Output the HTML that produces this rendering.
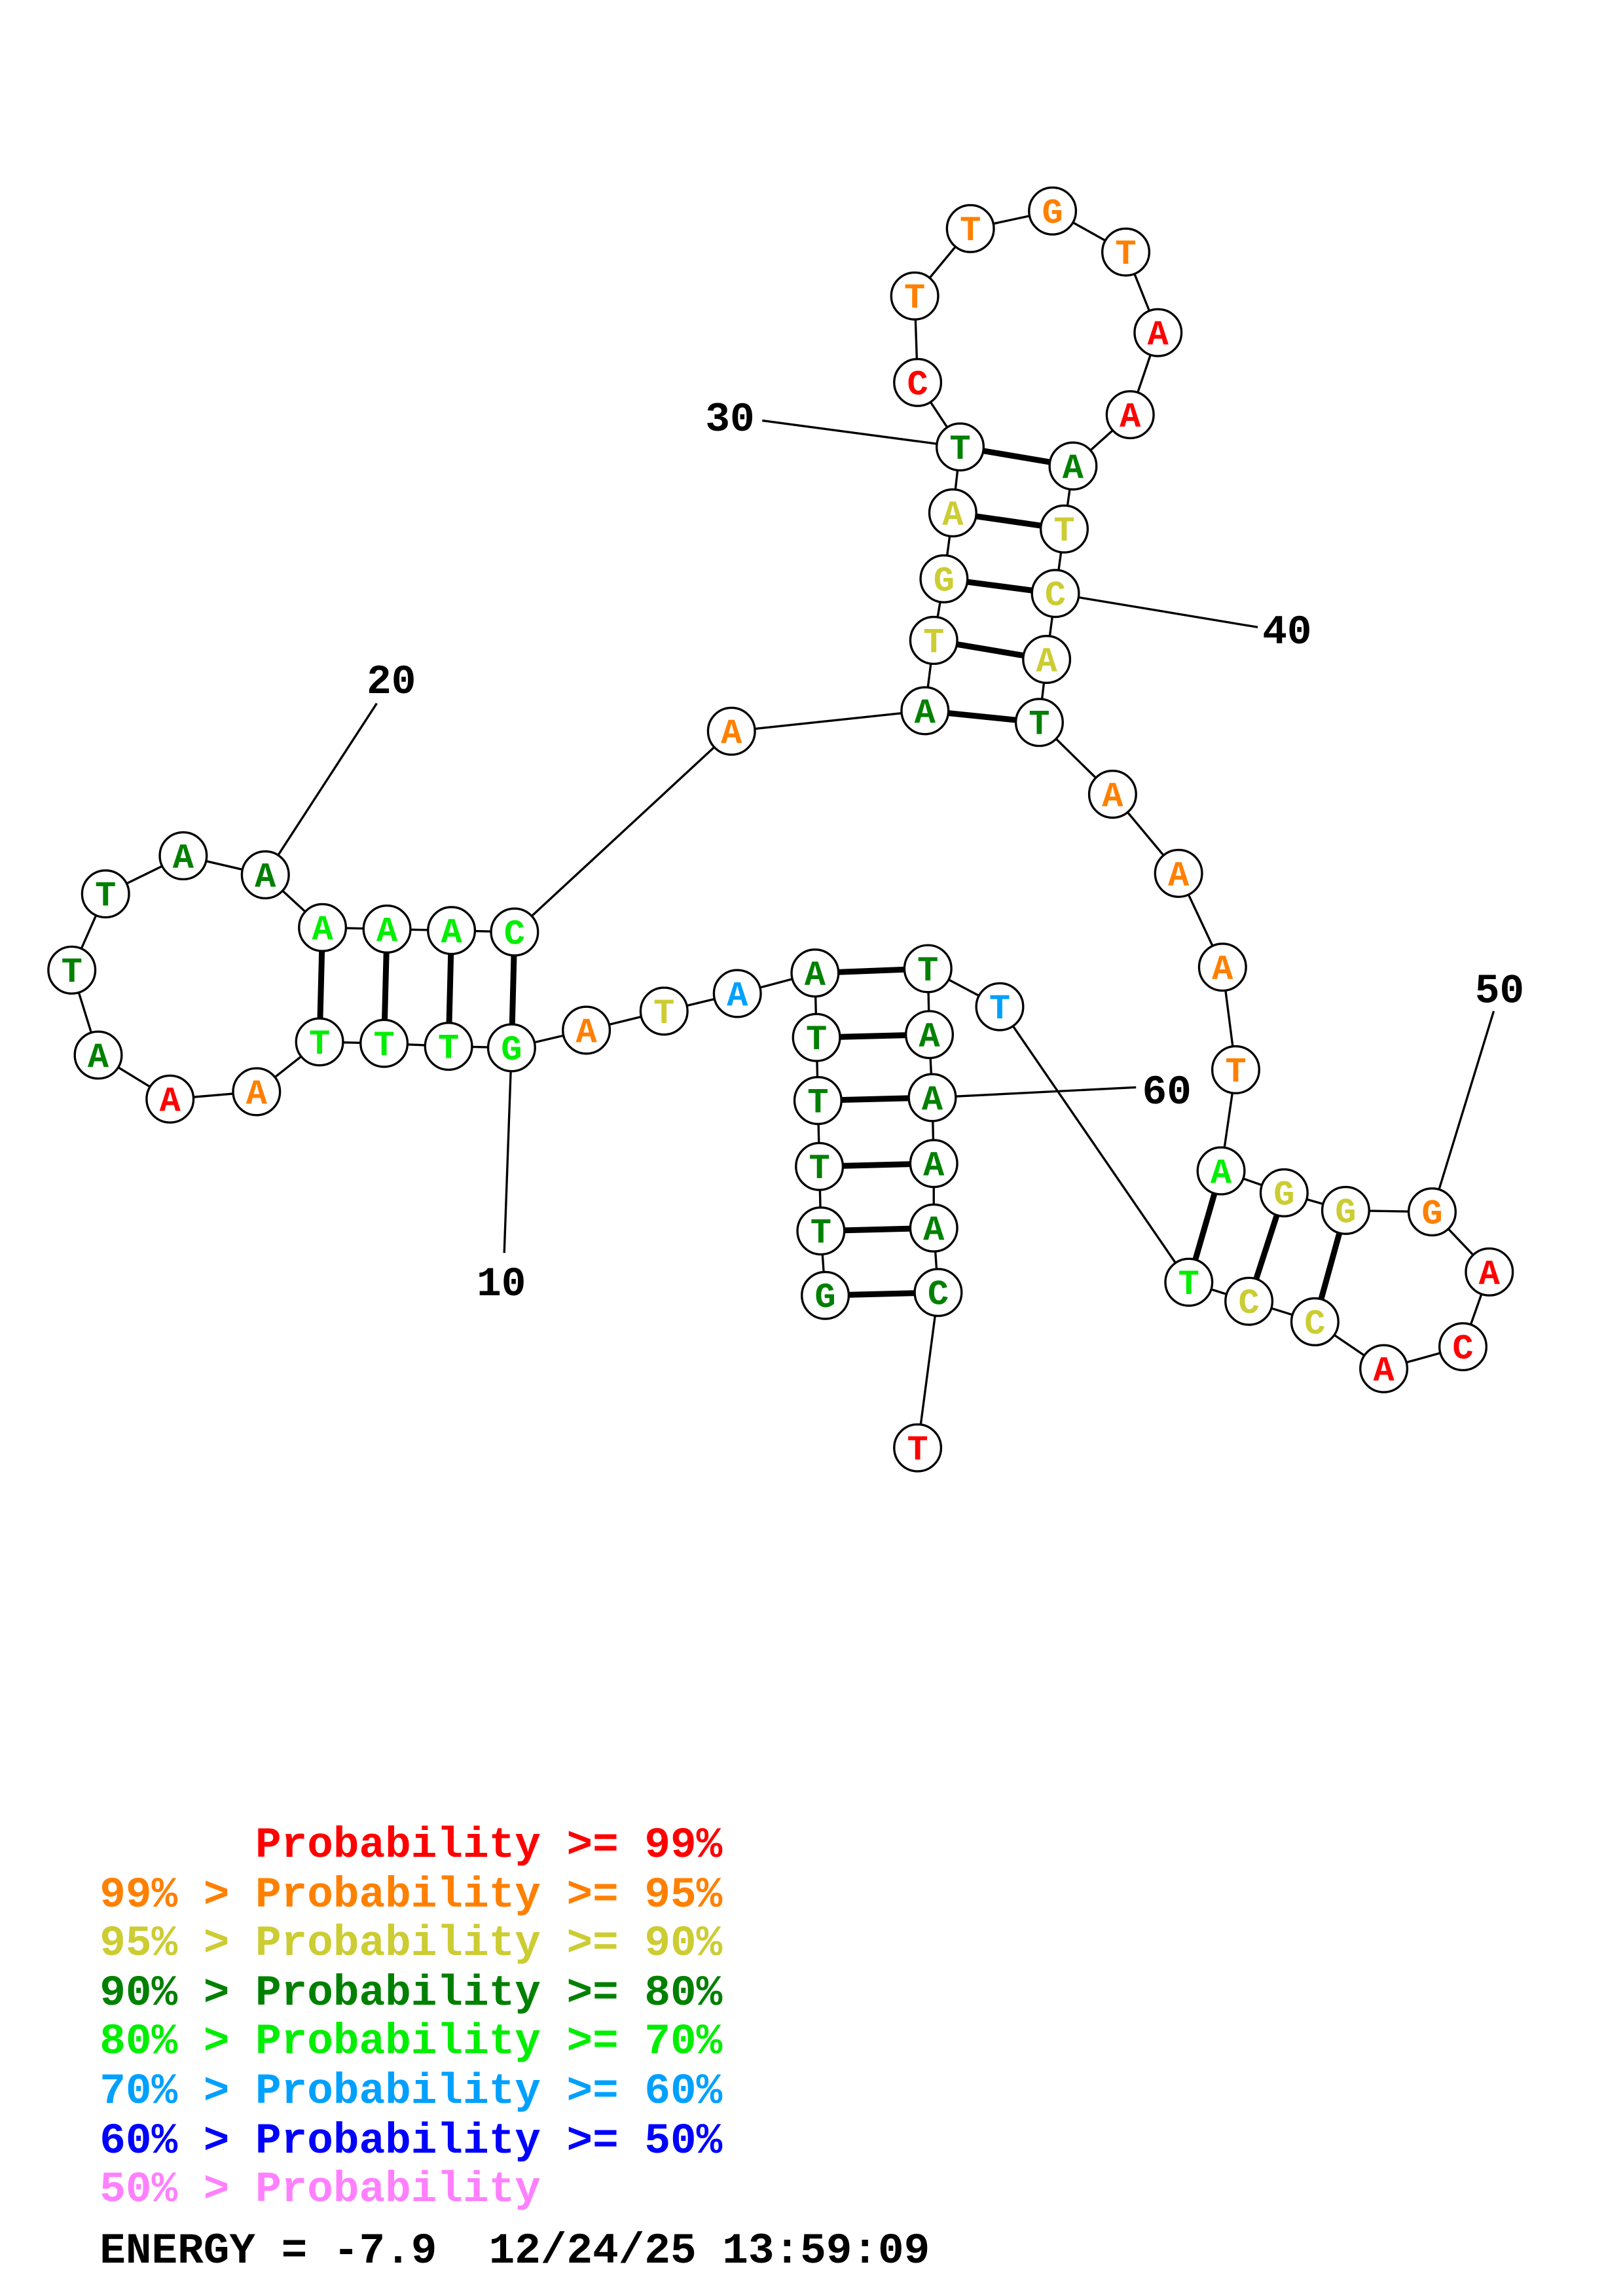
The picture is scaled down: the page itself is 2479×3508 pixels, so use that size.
<!DOCTYPE html>
<html><head><meta charset="utf-8"><style>html,body{margin:0;padding:0;background:#fff}svg{display:block}.pre{white-space:pre}</style></head>
<body>
<svg width="2479" height="3508" viewBox="0 0 1107.2 1566.8" preserveAspectRatio="none" xmlns="http://www.w3.org/2000/svg">
<g stroke="#000" stroke-width="1.5" fill="none">
<polyline points="563,884 560,840 559,796 558,751 557,708 556,664 503,678 453,690 400,703 349,715 306,714 262,712 218,711 175,745 116,750 67,720 49,662 72,610 125,584 181,597 220,633 264,634 308,635 351,636 499,499 631,485 637,437 644,395 650,350 655,305 626,261 624,202 662,156 718,144 768,172 790,227 771,283 732,318 726,361 720,405 714,450 709,493 759,542 804,596 834,660 843,730 833,799 876,814 918,826 977,827 1016,868 998,919 944,934 897,902 852,888 811,875 682,687 633,661 634,706 636,749 637,794 637,838 640,882 626,988"/>
<line x1="349" y1="715" x2="344" y2="855"/><line x1="181" y1="597" x2="257" y2="480"/>
<line x1="655" y1="305" x2="520" y2="287"/><line x1="720" y1="405" x2="858" y2="428"/>
<line x1="977" y1="827" x2="1019" y2="690"/><line x1="636" y1="749" x2="775" y2="742"/>
</g>
<g stroke="#000" stroke-width="4">
<line x1="563" y1="884" x2="640" y2="882"/><line x1="560" y1="840" x2="637" y2="838"/><line x1="559" y1="796" x2="637" y2="794"/><line x1="558" y1="751" x2="636" y2="749"/><line x1="557" y1="708" x2="634" y2="706"/><line x1="556" y1="664" x2="633" y2="661"/>
<line x1="349" y1="715" x2="351" y2="636"/><line x1="306" y1="714" x2="308" y2="635"/><line x1="262" y1="712" x2="264" y2="634"/><line x1="218" y1="711" x2="220" y2="633"/>
<line x1="631" y1="485" x2="709" y2="493"/><line x1="637" y1="437" x2="714" y2="450"/><line x1="644" y1="395" x2="720" y2="405"/><line x1="650" y1="350" x2="726" y2="361"/><line x1="655" y1="305" x2="732" y2="318"/>
<line x1="833" y1="799" x2="811" y2="875"/><line x1="876" y1="814" x2="852" y2="888"/><line x1="918" y1="826" x2="897" y2="902"/>
</g>
<g font-family="Liberation Mono, monospace" font-weight="bold" font-size="24" text-anchor="middle" stroke-width="1.5">
<g stroke="#000" fill="#fff">
<circle cx="563" cy="884" r="16"/><circle cx="560" cy="840" r="16"/><circle cx="559" cy="796" r="16"/><circle cx="558" cy="751" r="16"/><circle cx="557" cy="708" r="16"/><circle cx="556" cy="664" r="16"/><circle cx="503" cy="678" r="16"/><circle cx="453" cy="690" r="16"/><circle cx="400" cy="703" r="16"/><circle cx="349" cy="715" r="16"/><circle cx="306" cy="714" r="16"/><circle cx="262" cy="712" r="16"/><circle cx="218" cy="711" r="16"/><circle cx="175" cy="745" r="16"/><circle cx="116" cy="750" r="16"/><circle cx="67" cy="720" r="16"/><circle cx="49" cy="662" r="16"/><circle cx="72" cy="610" r="16"/><circle cx="125" cy="584" r="16"/><circle cx="181" cy="597" r="16"/><circle cx="220" cy="633" r="16"/><circle cx="264" cy="634" r="16"/><circle cx="308" cy="635" r="16"/><circle cx="351" cy="636" r="16"/><circle cx="499" cy="499" r="16"/><circle cx="631" cy="485" r="16"/><circle cx="637" cy="437" r="16"/><circle cx="644" cy="395" r="16"/><circle cx="650" cy="350" r="16"/><circle cx="655" cy="305" r="16"/><circle cx="626" cy="261" r="16"/><circle cx="624" cy="202" r="16"/><circle cx="662" cy="156" r="16"/><circle cx="718" cy="144" r="16"/><circle cx="768" cy="172" r="16"/><circle cx="790" cy="227" r="16"/><circle cx="771" cy="283" r="16"/><circle cx="732" cy="318" r="16"/><circle cx="726" cy="361" r="16"/><circle cx="720" cy="405" r="16"/><circle cx="714" cy="450" r="16"/><circle cx="709" cy="493" r="16"/><circle cx="759" cy="542" r="16"/><circle cx="804" cy="596" r="16"/><circle cx="834" cy="660" r="16"/><circle cx="843" cy="730" r="16"/><circle cx="833" cy="799" r="16"/><circle cx="876" cy="814" r="16"/><circle cx="918" cy="826" r="16"/><circle cx="977" cy="827" r="16"/><circle cx="1016" cy="868" r="16"/><circle cx="998" cy="919" r="16"/><circle cx="944" cy="934" r="16"/><circle cx="897" cy="902" r="16"/><circle cx="852" cy="888" r="16"/><circle cx="811" cy="875" r="16"/><circle cx="682" cy="687" r="16"/><circle cx="633" cy="661" r="16"/><circle cx="634" cy="706" r="16"/><circle cx="636" cy="749" r="16"/><circle cx="637" cy="794" r="16"/><circle cx="637" cy="838" r="16"/><circle cx="640" cy="882" r="16"/><circle cx="626" cy="988" r="16"/>
</g>
<g>
<text x="563" y="892" fill="#008000">G</text><text x="560" y="848" fill="#008000">T</text><text x="559" y="804" fill="#008000">T</text><text x="558" y="759" fill="#008000">T</text><text x="557" y="716" fill="#008000">T</text><text x="556" y="672" fill="#008000">A</text><text x="503" y="686" fill="#00a0ff">A</text><text x="453" y="698" fill="#cccc33">T</text><text x="400" y="711" fill="#ff8000">A</text><text x="349" y="723" fill="#00ee00">G</text><text x="306" y="722" fill="#00ee00">T</text><text x="262" y="720" fill="#00ee00">T</text><text x="218" y="719" fill="#00ee00">T</text><text x="175" y="753" fill="#ff8000">A</text><text x="116" y="758" fill="#ff0000">A</text><text x="67" y="728" fill="#008000">A</text><text x="49" y="670" fill="#008000">T</text><text x="72" y="618" fill="#008000">T</text><text x="125" y="592" fill="#008000">A</text><text x="181" y="605" fill="#008000">A</text><text x="220" y="641" fill="#00ee00">A</text><text x="264" y="642" fill="#00ee00">A</text><text x="308" y="643" fill="#00ee00">A</text><text x="351" y="644" fill="#00ee00">C</text><text x="499" y="507" fill="#ff8000">A</text><text x="631" y="493" fill="#008000">A</text><text x="637" y="445" fill="#cccc33">T</text><text x="644" y="403" fill="#cccc33">G</text><text x="650" y="358" fill="#cccc33">A</text><text x="655" y="313" fill="#008000">T</text><text x="626" y="269" fill="#ff0000">C</text><text x="624" y="210" fill="#ff8000">T</text><text x="662" y="164" fill="#ff8000">T</text><text x="718" y="152" fill="#ff8000">G</text><text x="768" y="180" fill="#ff8000">T</text><text x="790" y="235" fill="#ff0000">A</text><text x="771" y="291" fill="#ff0000">A</text><text x="732" y="326" fill="#008000">A</text><text x="726" y="369" fill="#cccc33">T</text><text x="720" y="413" fill="#cccc33">C</text><text x="714" y="458" fill="#cccc33">A</text><text x="709" y="501" fill="#008000">T</text><text x="759" y="550" fill="#ff8000">A</text><text x="804" y="604" fill="#ff8000">A</text><text x="834" y="668" fill="#ff8000">A</text><text x="843" y="738" fill="#ff8000">T</text><text x="833" y="807" fill="#00ee00">A</text><text x="876" y="822" fill="#cccc33">G</text><text x="918" y="834" fill="#cccc33">G</text><text x="977" y="835" fill="#ff8000">G</text><text x="1016" y="876" fill="#ff0000">A</text><text x="998" y="927" fill="#ff0000">C</text><text x="944" y="942" fill="#ff0000">A</text><text x="897" y="910" fill="#cccc33">C</text><text x="852" y="896" fill="#cccc33">C</text><text x="811" y="883" fill="#00ee00">T</text><text x="682" y="695" fill="#00a0ff">T</text><text x="633" y="669" fill="#008000">T</text><text x="634" y="714" fill="#008000">A</text><text x="636" y="757" fill="#008000">A</text><text x="637" y="802" fill="#008000">A</text><text x="637" y="846" fill="#008000">A</text><text x="640" y="890" fill="#008000">C</text><text x="626" y="996" fill="#ff0000">T</text>
</g>
</g>
<g font-family="Liberation Mono, monospace" font-weight="bold" font-size="28" fill="#000" text-anchor="middle">
<text x="342" y="884">10</text><text x="267" y="473">20</text><text x="498" y="294">30</text><text x="878" y="439">40</text><text x="1023" y="684">50</text><text x="796" y="753">60</text>
</g>
<g font-family="Liberation Mono, monospace" font-weight="bold" font-size="29.5">
<text class="pre" x="68" y="1267" fill="#ff0000">      Probability &gt;= 99%</text>
<text class="pre" x="68" y="1301" fill="#ff8000">99% &gt; Probability &gt;= 95%</text>
<text class="pre" x="68" y="1334" fill="#cccc33">95% &gt; Probability &gt;= 90%</text>
<text class="pre" x="68" y="1368" fill="#008000">90% &gt; Probability &gt;= 80%</text>
<text class="pre" x="68" y="1401" fill="#00ee00">80% &gt; Probability &gt;= 70%</text>
<text class="pre" x="68" y="1435" fill="#00a0ff">70% &gt; Probability &gt;= 60%</text>
<text class="pre" x="68" y="1469" fill="#0000ff">60% &gt; Probability &gt;= 50%</text>
<text class="pre" x="68" y="1502" fill="#ff80ff">50% &gt; Probability</text>
<text class="pre" x="68" y="1544" fill="#000">ENERGY = -7.9  12/24/25 13:59:09</text>
</g>
</svg>
</body></html>
